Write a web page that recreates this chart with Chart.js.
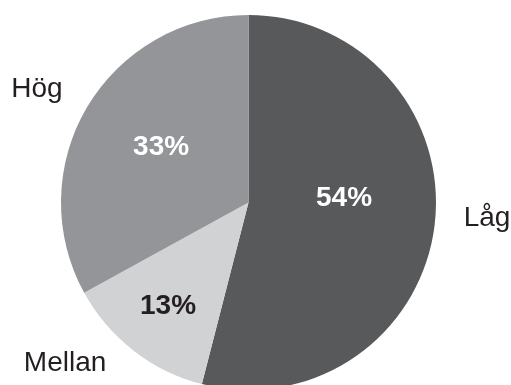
<!DOCTYPE html>
<html>
<head>
<meta charset="utf-8">
<script src="https://cdn.jsdelivr.net/npm/chart.js@4.4.1/dist/chart.umd.min.js"></script>
<style>
  html, body { margin: 0; padding: 0; background: #ffffff; overflow: hidden; }
  #wrap { width: 511px; height: 385px; overflow: hidden; position: relative; }
  canvas { display: block; }
</style>
</head>
<body>
<div id="wrap"><canvas id="chart" width="511" height="400"></canvas></div>
<script>
// Share of respondents per level
const categories = ['Låg', 'Mellan', 'Hög'];
const shares = [54, 13, 33];

const sliceColors = ['#58595b', '#d1d2d4', '#939598'];
const valueTextColors = ['#ffffff', '#231f20', '#ffffff'];

// Label placement relative to each slice: radius fraction and angle nudge (degrees)
const valueLabelPlacement = [
  { r: 0.51, nudge: -9.5 },
  { r: 0.70, nudge: 0 },
  { r: 0.55, nudge: 1.5 }
];
const nameLabelPlacement = [
  { r: 1.275, nudge: -3.5 },
  { r: 1.30, nudge: 11 },
  { r: 1.28, nudge: -2.4 }
];

const sliceLabels = {
  id: 'sliceLabels',
  afterDatasetsDraw(chart) {
    const ctx = chart.ctx;
    const meta = chart.getDatasetMeta(0);
    ctx.save();
    ctx.textAlign = 'center';
    ctx.textBaseline = 'middle';
    meta.data.forEach((arc, i) => {
      const p = arc.getProps(['x', 'y', 'startAngle', 'endAngle', 'outerRadius'], true);
      const mid = (p.startAngle + p.endAngle) / 2;

      const vp = valueLabelPlacement[i];
      const va = mid + vp.nudge * Math.PI / 180;
      ctx.font = 'bold 28px "Liberation Sans", Arial, sans-serif';
      ctx.fillStyle = valueTextColors[i];
      ctx.fillText(shares[i] + '%',
        p.x + Math.cos(va) * p.outerRadius * vp.r,
        p.y + Math.sin(va) * p.outerRadius * vp.r);

      const np = nameLabelPlacement[i];
      const na = mid + np.nudge * Math.PI / 180;
      ctx.font = '28px "Liberation Sans", Arial, sans-serif';
      ctx.fillStyle = '#231f20';
      ctx.fillText(categories[i],
        p.x + Math.cos(na) * p.outerRadius * np.r,
        p.y + Math.sin(na) * p.outerRadius * np.r);
    });
    ctx.restore();
  }
};

new Chart(document.getElementById('chart'), {
  type: 'pie',
  data: {
    labels: categories,
    datasets: [{
      data: shares,
      backgroundColor: sliceColors,
      borderWidth: 0
    }]
  },
  options: {
    responsive: false,
    animation: false,
    layout: { padding: { left: 61, right: 75, top: 15, bottom: 10 } },
    plugins: {
      legend: { display: false },
      tooltip: { enabled: false }
    }
  },
  plugins: [sliceLabels]
});
</script>
</body>
</html>
